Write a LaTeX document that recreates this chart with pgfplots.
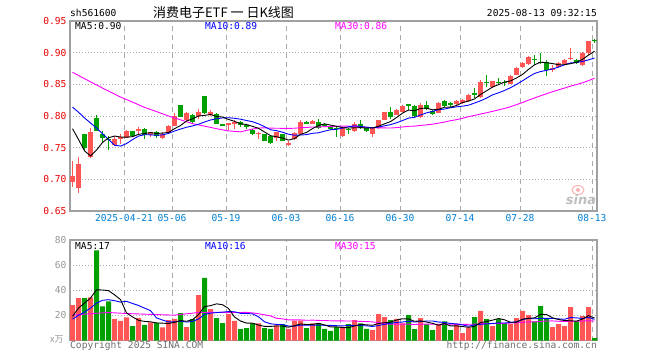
\documentclass[border=0pt]{standalone}
\usepackage{pgfplots}
\pgfplotsset{compat=1.18}
\usepackage{pgfplotstable}
\usepackage{fontspec}
\setmainfont{DejaVu Sans Mono}
\newfontfamily\cjk{Noto Sans CJK SC}
\newfontfamily\wm{DejaVu Sans}
\definecolor{cred}{RGB}{255,85,85}
\definecolor{cgreen}{RGB}{0,160,0}
\definecolor{axgray}{RGB}{160,160,160}
\definecolor{gridgray}{RGB}{170,170,170}
\definecolor{pricered}{RGB}{230,0,0}
\definecolor{dateblue}{RGB}{0,128,210}
\definecolor{mablue}{RGB}{0,0,255}
\definecolor{mamag}{RGB}{255,0,255}
\definecolor{txtgray}{RGB}{110,110,110}
\definecolor{volgray}{RGB}{150,150,150}
\pgfplotsset{
  up/.style={restrict expr to domain={\thisrow{d}}{0.5:1.5}},
  down/.style={restrict expr to domain={\thisrow{d}}{-0.5:0.5}},
  panel/.style={
    scale only axis, width=527pt,
    xmin=-0.4167, xmax=87.4167,
    axis line style={draw=axgray, line width=1.5pt},
    major tick length=0pt,
    xtick={8.58,16.58,25.58,35.58,44.58,54.58,64.58,74.58,86.58},
    xmajorgrids, ymajorgrids,
    x grid style={draw=gridgray, line width=0.9pt, dash pattern=on 5pt off 4pt},
    y grid style={draw=gridgray, line width=0.9pt, dash pattern=on 1pt off 2pt},
    tick label style={font=\fontsize{9.6}{11}\selectfont},
    /pgf/number format/assume math mode=true,
  }
}
\pgfplotstableread{
i o c h l v d
0 0.696 0.705 0.729 0.688 28.2 1
1 0.687 0.725 0.735 0.679 33.8 1
2 0.771 0.749 0.772 0.745 33.8 0
3 0.736 0.775 0.781 0.733 34.4 1
4 0.797 0.777 0.802 0.777 71.7 0
5 0.771 0.765 0.776 0.759 27.2 0
6 0.764 0.762 0.768 0.746 31.2 0
7 0.755 0.763 0.768 0.752 17.3 1
8 0.765 0.767 0.771 0.756 15.7 1
9 0.766 0.776 0.778 0.765 18.4 1
10 0.776 0.769 0.777 0.768 11.4 0
11 0.776 0.780 0.783 0.772 17.8 1
12 0.780 0.770 0.781 0.763 12.5 0
13 0.770 0.774 0.775 0.767 14.5 1
14 0.774 0.769 0.776 0.765 14.0 0
15 0.766 0.772 0.775 0.763 10.4 1
16 0.773 0.785 0.786 0.772 16.2 1
17 0.785 0.800 0.804 0.784 17.3 1
18 0.818 0.799 0.818 0.798 21.8 0
19 0.793 0.804 0.806 0.792 10.6 1
20 0.802 0.790 0.803 0.789 17.0 0
21 0.800 0.807 0.811 0.795 36.2 1
22 0.832 0.805 0.832 0.803 49.8 0
23 0.802 0.806 0.810 0.800 25.0 1
24 0.803 0.788 0.804 0.787 17.8 0
25 0.787 0.786 0.788 0.785 13.8 0
26 0.787 0.788 0.789 0.778 21.0 1
27 0.788 0.790 0.793 0.780 15.7 1
28 0.791 0.786 0.792 0.783 9.0 0
29 0.786 0.783 0.787 0.780 9.8 0
30 0.7775 0.771 0.779 0.770 13.6 0
31 0.772 0.773 0.775 0.764 13.6 1
32 0.771 0.761 0.772 0.760 9.8 0
33 0.768 0.757 0.769 0.756 9.2 0
34 0.766 0.774 0.775 0.761 12.0 1
35 0.771 0.761 0.772 0.760 13.0 0
36 0.756 0.757 0.761 0.7525 9.2 1
37 0.763 0.773 0.774 0.762 15.8 1
38 0.771 0.790 0.793 0.770 15.8 1
39 0.790 0.789 0.792 0.787 9.8 0
40 0.788 0.792 0.793 0.787 13.6 1
41 0.791 0.781 0.795 0.779 13.6 0
42 0.787 0.786 0.789 0.782 9.2 0
43 0.783 0.780 0.785 0.778 7.6 0
44 0.781 0.780 0.784 0.767 10.6 0
45 0.768 0.781 0.782 0.767 10.4 1
46 0.780 0.778 0.781 0.772 13.1 0
47 0.776 0.788 0.790 0.774 16.2 1
48 0.788 0.781 0.793 0.780 13.6 0
49 0.781 0.777 0.782 0.775 9.2 0
50 0.771 0.781 0.782 0.767 8.2 1
51 0.781 0.793 0.794 0.780 21.0 1
52 0.794 0.806 0.807 0.793 18.6 1
53 0.806 0.799 0.815 0.795 16.2 0
54 0.802 0.809 0.811 0.801 17.3 1
55 0.807 0.816 0.817 0.806 13.6 1
56 0.818 0.817 0.818 0.810 20.2 0
57 0.816 0.800 0.817 0.797 9.0 0
58 0.798 0.818 0.821 0.797 17.8 1
59 0.818 0.811 0.823 0.810 13.1 0
60 0.808 0.803 0.810 0.801 8.2 0
61 0.805 0.821 0.822 0.804 13.1 1
62 0.824 0.816 0.826 0.815 15.2 0
63 0.820 0.819 0.822 0.815 8.2 0
64 0.819 0.824 0.826 0.818 13.1 1
65 0.820 0.8255 0.827 0.819 5.9 1
66 0.823 0.833 0.834 0.822 10.4 1
67 0.836 0.833 0.844 0.829 18.6 0
68 0.830 0.854 0.857 0.829 23.5 1
69 0.854 0.853 0.865 0.846 17.0 0
70 0.846 0.855 0.856 0.845 11.4 1
71 0.854 0.853 0.860 0.849 17.0 0
72 0.854 0.853 0.857 0.847 13.8 0
73 0.851 0.863 0.864 0.850 13.1 1
74 0.865 0.876 0.877 0.864 17.8 1
75 0.877 0.883 0.885 0.876 23.5 1
76 0.882 0.893 0.894 0.881 20.2 1
77 0.890 0.889 0.896 0.880 15.2 0
78 0.886 0.884 0.900 0.882 27.4 0
79 0.886 0.872 0.888 0.863 17.0 0
80 0.874 0.876 0.880 0.870 10.6 1
81 0.877 0.884 0.885 0.876 13.1 1
82 0.882 0.889 0.890 0.881 11.4 1
83 0.891 0.892 0.907 0.888 26.6 1
84 0.889 0.883 0.890 0.882 15.2 0
85 0.881 0.899 0.901 0.879 19.4 1
86 0.899 0.918 0.919 0.897 26.6 1
87 0.920 0.919 0.921 0.915 1.8 0
}\price
\pgfplotstableread{
i a b m
0 0.780 0.814 0.869
1 0.763 0.806 nan
2 0.745 0.797 0.859
3 0.737 0.789 nan
4 0.7462 0.781 0.849
5 0.7582 0.772 nan
6 0.7656 0.763 0.8394
7 0.7684 0.754 nan
8 0.7668 0.7525 0.830
9 0.7666 0.7564 nan
10 0.7674 0.7628 0.822
11 0.7710 0.7683 nan
12 0.7724 0.7704 0.8136
13 0.7738 0.7703 nan
14 0.7724 0.7695 0.807
15 0.7730 0.7702 nan
16 0.7740 0.7725 0.800
17 0.7800 0.7762 nan
18 0.7850 0.7794 0.794
19 0.7920 0.7822 nan
20 0.7956 0.7843 0.788
21 0.8000 0.7870 nan
22 0.8010 0.7905 0.784
23 0.8024 0.7937 nan
24 0.7992 0.7956 0.780
25 0.7984 0.7970 nan
26 0.7946 0.7973 0.7765
27 0.7916 0.7963 nan
28 0.7876 0.7950 0.775
29 0.7866 0.7929 0.7772
30 0.7836 0.7910 0.7794
31 0.7806 0.7876 0.7810
32 0.7748 0.7832 0.7814
33 0.7690 0.7783 0.7808
34 0.7672 0.7769 0.7807
35 0.7652 0.7744 0.7805
36 0.7620 0.7713 0.7804
37 0.7644 0.7696 0.7807
38 0.7710 0.7700 0.7815
39 0.7740 0.7706 0.7819
40 0.7802 0.7727 0.7827
41 0.7850 0.7735 0.7827
42 0.7876 0.7760 0.7832
43 0.7856 0.7783 0.7834
44 0.7838 0.7789 0.7838
45 0.7816 0.7809 0.7841
46 0.7810 0.7830 0.7839
47 0.7814 0.7845 0.7835
48 0.7816 0.7836 0.7829
49 0.7810 0.7824 0.7820
50 0.7810 0.7813 0.7817
51 0.7840 0.7825 0.7812
52 0.7876 0.7845 0.7812
53 0.7912 0.7864 0.7810
54 0.7976 0.7893 0.7817
55 0.8046 0.7928 0.7827
56 0.8094 0.7967 0.7837
57 0.8082 0.7979 0.7840
58 0.8120 0.8016 0.7851
59 0.8124 0.8050 0.7860
60 0.8098 0.8072 0.7871
61 0.8106 0.8100 0.7887
62 0.8138 0.8110 0.7905
63 0.8140 0.8130 0.7926
64 0.8166 0.8145 0.7942
65 0.8212 0.8155 0.7964
66 0.8236 0.8171 0.7989
67 0.8270 0.8204 0.8009
68 0.8340 0.8240 0.8031
69 0.8398 0.8282 0.8052
70 0.8456 0.8334 0.8073
71 0.8496 0.8366 0.8097
72 0.8536 0.8403 0.8119
73 0.8554 0.8447 0.8147
74 0.8600 0.8499 0.8179
75 0.8656 0.8556 0.8213
76 0.8736 0.8616 0.8251
77 0.8808 0.8672 0.8285
78 0.8850 0.8702 0.8319
79 0.8842 0.8721 0.8351
80 0.8828 0.8742 0.8383
81 0.8810 0.8773 0.8413
82 0.8810 0.8809 0.8441
83 0.8826 0.8838 0.8472
84 0.8848 0.8845 0.8496
85 0.8894 0.8861 0.8524
86 0.8962 0.8886 0.8558
87 0.9022 0.8916 0.8597
}\pma
\pgfplotstableread{
i a b m
0 19.2 17.0 20.2
1 25.8 20.0 nan
2 29.8 22.6 nan
3 33.8 25.8 nan
4 40.4 29.8 21.7
5 40.2 32.0 nan
6 39.7 32.5 22.3
7 36.4 31.7 nan
8 32.6 30.6 nan
9 22.0 31.2 21.5
10 18.8 29.5 nan
11 16.1 27.9 nan
12 15.2 25.8 nan
13 14.9 23.8 20.8
14 14.0 18.0 nan
15 13.8 16.3 nan
16 13.5 14.8 nan
17 14.5 14.8 20.2
18 15.9 15.4 nan
19 15.3 14.7 nan
20 16.6 15.2 nan
21 20.6 17.1 22.3
22 27.1 20.8 nan
23 27.7 21.8 nan
24 29.2 22.2 nan
25 28.5 22.6 22.4
26 25.5 23.0 nan
27 18.7 22.9 nan
28 15.5 21.6 22.3
29 13.9 21.5 22.4
30 13.8 21.2 22.0
31 12.3 18.9 21.3
32 11.2 14.9 20.5
33 11.2 13.3 19.6
34 11.6 12.8 17.7
35 11.5 12.7 17.2
36 10.6 11.5 16.4
37 11.8 11.5 16.4
38 13.2 12.2 16.4
39 12.7 12.2 16.1
40 12.8 12.2 16.2
41 13.7 12.2 16.0
42 12.4 12.1 15.9
43 10.8 12.0 15.7
44 10.9 11.8 15.6
45 10.3 11.6 15.6
46 10.2 12.0 15.5
47 11.6 12.0 15.5
48 12.8 11.8 15.2
49 12.5 11.7 15.1
50 12.1 11.2 14.8
51 13.6 11.9 14.3
52 14.1 12.9 13.3
53 14.6 13.7 13.0
54 16.3 14.4 13.0
55 17.3 14.7 13.0
56 17.2 15.4 13.0
57 15.3 14.7 12.7
58 15.6 15.1 13.0
59 14.7 15.5 13.1
60 13.7 15.5 13.0
61 12.2 14.7 12.9
62 13.5 14.4 13.1
63 11.6 13.6 13.1
64 11.6 13.2 13.1
65 11.1 12.4 12.9
66 10.6 11.4 12.9
67 11.2 12.4 13.0
68 14.3 12.9 13.3
69 15.1 13.3 13.5
70 16.2 13.6 13.4
71 17.5 14.0 13.6
72 16.5 13.9 13.7
73 14.5 14.4 13.9
74 14.6 14.9 14.1
75 17.0 16.6 14.6
76 17.7 17.6 14.8
77 18.0 17.3 14.8
78 20.8 17.6 15.2
79 20.7 17.6 15.5
80 18.1 17.6 15.6
81 16.7 17.2 15.3
82 15.9 16.9 15.1
83 15.7 18.3 15.4
84 15.4 18.0 15.3
85 17.1 17.6 15.5
86 19.8 18.3 15.7
87 17.9 16.9 15.5
}\vma
\begin{document}
\begin{tikzpicture}
\useasboundingbox (0,0) rectangle (660pt,360pt);
% price panel
\begin{axis}[panel,
  at={(70pt,149pt)}, anchor=south west, height=190pt,
  ymin=0.65, ymax=0.95,
  ytick={0.65,0.70,0.75,0.80,0.85,0.90,0.95},
  xticklabels={2025-04-21,05-06,05-19,06-03,06-16,06-30,07-14,07-28,08-13},
  xticklabel style={text=dateblue},
  yticklabel style={text=pricered, /pgf/number format/.cd, fixed, fixed zerofill, precision=2},
]
\addplot[draw=none, mark=none, forget plot, up,
  error bars/.cd, y dir=both, y explicit, error mark=none,
  error bar style={draw=cred, line width=1pt, solid}]
  table[x=i, y expr={(\thisrow{h}+\thisrow{l})/2}, y error expr={(\thisrow{h}-\thisrow{l})/2}]{\price};
\addplot[draw=none, mark=none, forget plot, down,
  error bars/.cd, y dir=both, y explicit, error mark=none,
  error bar style={draw=cgreen, line width=1pt, solid}]
  table[x=i, y expr={(\thisrow{h}+\thisrow{l})/2}, y error expr={(\thisrow{h}-\thisrow{l})/2}]{\price};
\addplot[draw=none, mark=none, forget plot, up,
  error bars/.cd, y dir=both, y explicit, error mark=none,
  error bar style={draw=cred, line width=5pt, solid}]
  table[x=i, y expr={(\thisrow{o}+\thisrow{c})/2}, y error expr={max(abs(\thisrow{c}-\thisrow{o})/2,0.0007)}]{\price};
\addplot[draw=none, mark=none, forget plot, down,
  error bars/.cd, y dir=both, y explicit, error mark=none,
  error bar style={draw=cgreen, line width=5pt, solid}]
  table[x=i, y expr={(\thisrow{o}+\thisrow{c})/2}, y error expr={max(abs(\thisrow{c}-\thisrow{o})/2,0.0007)}]{\price};
\addplot[mamag, line width=0.9pt, mark=none] table[x=i,y=m]{\pma};
\addplot[mablue, line width=0.9pt, mark=none] table[x=i,y=b]{\pma};
\addplot[black, line width=0.9pt, mark=none] table[x=i,y=a]{\pma};
\end{axis}
% volume panel
\begin{axis}[panel,
  at={(70pt,19.5pt)}, anchor=south west, height=100.5pt,
  ymin=0, ymax=80, ytick={20,40,60,80},
  xticklabels={},
  yticklabel style={text=volgray},
]
\addplot[ybar, bar width=5pt, bar shift=0pt, fill=cred, draw=none, up] table[x=i,y=v]{\price};
\addplot[ybar, bar width=5pt, bar shift=0pt, fill=cgreen, draw=none, down] table[x=i,y=v]{\price};
\addplot[mamag, line width=0.9pt, mark=none] table[x=i,y=m]{\vma};
\addplot[mablue, line width=0.9pt, mark=none] table[x=i,y=b]{\vma};
\addplot[black, line width=0.9pt, mark=none] table[x=i,y=a]{\vma};
\end{axis}
% texts
\tikzset{mono/.style={font=\fontsize{9.6}{11}\selectfont, inner sep=0pt}}
\node[mono, anchor=west] at (70pt,347pt) {sh561600};
\node[font=\cjk\fontsize{13}{14}\selectfont, inner sep=0pt] at (223.5pt,347.5pt) {消费电子ETF 一 日K线图};
\node[mono, anchor=east] at (597pt,347pt) {2025-08-13 09:32:15};
\node[mono, anchor=west] at (75pt,334pt) {MA5:0.90};
\node[mono, anchor=west, text=mablue] at (205pt,334pt) {MA10:0.89};
\node[mono, anchor=west, text=mamag] at (335pt,334pt) {MA30:0.86};
\node[mono, anchor=west] at (75pt,113.5pt) {MA5:17};
\node[mono, anchor=west, text=mablue] at (205pt,113.5pt) {MA10:16};
\node[mono, anchor=west, text=mamag] at (335pt,113.5pt) {MA30:15};
\node[font=\cjk\fontsize{9}{10}\selectfont, text=volgray, inner sep=0pt, anchor=west] at (50pt,20.5pt) {x万};
\node[mono, anchor=west, text=txtgray] at (70pt,14.3pt) {Copyright 2025 SINA.COM};
\node[mono, anchor=east, text=txtgray] at (597pt,14.3pt) {http://finance.sina.com.cn};
% sina watermark
\draw[cred!45, line width=1pt] (578pt,170pt) ellipse (6pt and 4.5pt);
\fill[cred!45] (578pt,170pt) circle (2pt);
\node[font=\wm\bfseries\itshape\fontsize{13}{14}\selectfont, text=black!25, inner sep=0pt] at (581pt,160pt) {sina};
\end{tikzpicture}
\end{document}
